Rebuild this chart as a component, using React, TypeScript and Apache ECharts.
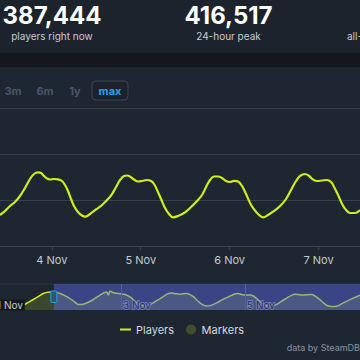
import React, { useEffect, useRef } from "react";
import * as echarts from "echarts";

// Main chart: hours since 3 Nov 00:00 and concurrent players
const playerHours = [
  10.0, 11.35, 12.7, 14.05, 15.4, 16.75, 18.1, 19.18, 20.26, 21.07,
  21.88, 22.69, 23.5, 24.58, 25.66, 26.74, 27.55, 28.36, 29.17, 29.98,
  31.06, 32.14, 32.95, 34.3, 35.93, 37.55, 39.17, 40.25, 41.33, 42.41,
  43.49, 44.3, 45.1, 46.19, 47.27, 48.35, 49.7, 50.78, 51.59, 52.4,
  53.48, 54.56, 55.64, 56.72, 58.07, 59.69, 61.31, 62.93, 64.55, 65.63,
  66.71, 67.79, 68.87, 69.95, 71.03, 72.11, 73.19, 74.27, 75.35, 76.43,
  77.52, 78.6, 79.68, 81.03, 82.38, 84.0, 85.62, 87.24, 88.86, 89.94,
  91.02, 92.37, 93.45, 94.53, 95.61, 96.96, 98.31, 99.39, 100.2, 101.28,
  102.36, 103.44, 104.52, 105.87, 107.22,
];
const playerCounts = [
  267400, 276100, 287000, 295700, 308700, 326100, 345700, 356500, 360200, 358700,
  352200, 346700, 344600, 345700, 345000, 341300, 332600, 319600, 302200, 287000,
  273900, 266300, 263700, 269600, 279400, 289100, 302200, 313000, 328300, 343500,
  352200, 353300, 351100, 344600, 340200, 341300, 343500, 341300, 334800, 321700,
  302200, 282600, 269600, 262400, 265200, 271700, 282600, 295700, 310900, 328300,
  343500, 351100, 351100, 347800, 341300, 339100, 341700, 340200, 330400, 313000,
  293500, 279400, 269600, 262400, 267400, 276100, 287000, 302200, 326100, 341300,
  352200, 356500, 352200, 344600, 341300, 342400, 343500, 339100, 328300, 310900,
  291300, 278300, 271700, 271700, 278300,
];
const mainTickHours = [24, 48, 72, 96];

// Navigator: hours since 3 Nov 00:00 and players
const navHours = [
  -46.84, -42.97, -40.26, -37.55, -35.23, -32.52, -30.08, -27.48, -26.21, -23.61,
  -21.02, -18.58, -16.53, -15.1, -13.28, -10.84, -8.13, -6.58, -5.54, -4.92,
  -4.26, -3.48, -2.32, -0.39, 1.55, 2.9, 4.14, 6.08, 8.63, 10.45,
  12.5, 14.32, 16.37, 17.8, 19.63, 21.29, 22.84, 25.43, 26.71, 27.99,
  29.42, 30.58, 31.94, 33.18, 34.84, 37.05, 39.49, 42.2, 43.74, 45.41,
  46.84, 48.66, 49.94, 51.21, 52.45, 53.81, 55.35, 57.02, 58.45, 60.27,
  61.93, 64.14, 65.8, 67.35, 68.9, 70.57, 72.19, 73.82, 75.48, 77.03,
  78.58, 80.24, 82.84, 84.38, 86.05, 87.87, 89.92, 92.52,
];
const navCounts = [
  260500, 253300, 249700, 267800, 295200, 325600, 356000, 367500, 367500, 356000,
  331400, 300300, 271400, 271400, 282200, 307500, 343700, 361800, 367500, 343700,
  374800, 365400, 360300, 354500, 348700, 336500, 319800, 283700, 259100, 264200,
  283700, 307500, 331400, 350900, 360300, 354500, 350900, 356000, 347300, 331400,
  303900, 283700, 265600, 259100, 264200, 283700, 311100, 336500, 350900, 356000,
  347300, 343700, 343700, 336500, 318400, 295200, 271400, 254800, 258400, 271400,
  293100, 319800, 340100, 350900, 347300, 343700, 347300, 348700, 332800, 307500,
  280100, 259100, 254800, 264200, 283700, 300300, 319800, 343700,
];
const navTickHours = [-48, 0, 48];
const navSelectStart = -26;

const statValues = ["387,444", "416,517"];
const statLabels = ["players right now", "24-hour peak", "all-time peak"];
const rangeButtons = ["3m", "6m", "1y"];
const legendNames = ["Players", "Markers"];

const FONT = "Inter, 'Noto Sans', sans-serif";
const LIME = "#cfec1c";
const BG = "#1e2632";

const dayLabel = (v: number) => `${3 + Math.round(v / 24)} Nov`;

export default function App() {
  const ref = useRef<HTMLDivElement>(null);
  useEffect(() => {
    const chart = echarts.init(ref.current!, null, { renderer: "svg" });
    const option: any = {
      animation: false,
      backgroundColor: BG,
      textStyle: { fontFamily: FONT },
      legend: {
        data: [
          { name: legendNames[0], icon: "path://M0,0H11V2H0Z" },
          { name: legendNames[1], icon: "circle" },
        ],
        left: 115,
        top: 319,
        itemWidth: 11,
        itemHeight: 10,
        itemGap: 12,
        selectedMode: false,
        textStyle: { color: "#d3d8df", fontSize: 11, fontFamily: FONT },
      },
      grid: [
        { left: 0, right: 0, top: 108, bottom: 114 },
        { left: 0, right: 0, top: 284, height: 26 },
      ],
      xAxis: [
        {
          type: "value",
          gridIndex: 0,
          min: 10,
          max: 107.2,
          axisLine: { lineStyle: { color: "#3a4350", width: 1 } },
          axisTick: { length: 4, lineStyle: { color: "#3a4350" }, customValues: mainTickHours },
          axisLabel: {
            color: "#c3cad3",
            fontSize: 11,
            margin: 8,
            formatter: dayLabel,
            fontFamily: FONT,
            customValues: mainTickHours,
          },
          splitLine: { show: false },
        },
        {
          type: "value",
          gridIndex: 1,
          min: -46.84,
          max: 92.52,
          axisLine: { show: false },
          axisTick: { show: false },
          axisLabel: { show: false },
          splitLine: { show: false },
        },
      ],
      yAxis: [
        {
          type: "value",
          gridIndex: 0,
          min: 200000,
          max: 500000,
          interval: 100000,
          axisLabel: { show: false },
          axisLine: { show: false },
          axisTick: { show: false },
          splitLine: { show: true, lineStyle: { color: "#363f4c", width: 1 } },
        },
        {
          type: "value",
          gridIndex: 1,
          min: 228000,
          max: 430000,
          axisLabel: { show: false },
          axisLine: { show: false },
          axisTick: { show: false },
          splitLine: { show: false },
        },
      ],
      series: [
        {
          name: "Players",
          type: "line",
          xAxisIndex: 0,
          yAxisIndex: 0,
          data: playerHours.map((h, i) => [h, playerCounts[i]]),
          smooth: 0.4,
          symbol: "none",
          showSymbol: false,
          lineStyle: { color: LIME, width: 2.2 },
          itemStyle: { color: LIME },
          z: 3,
        },
        {
          name: "Markers",
          type: "scatter",
          xAxisIndex: 0,
          yAxisIndex: 0,
          data: [],
          symbol: "circle",
          itemStyle: { color: "#4a5a2c" },
        },
        {
          name: "Navigator",
          type: "line",
          xAxisIndex: 1,
          yAxisIndex: 1,
          data: navHours.map((h, i) => [h, navCounts[i]]),
          smooth: 0.2,
          symbol: "none",
          showSymbol: false,
          lineStyle: { color: LIME, width: 1.5 },
          areaStyle: { color: "rgba(200,230,30,0.26)" },
          z: 2,
          markLine: {
            silent: true,
            symbol: ["none", "none"],
            label: { show: false },
            lineStyle: { color: "#4c5463", type: "solid", width: 1 },
            data: navTickHours.filter((h) => h > -46.84).map((h) => ({ xAxis: h })),
          },
        },
      ],
    };
    chart.setOption(option);
    const px = (h: number) => chart.convertToPixel({ xAxisIndex: 1 }, h) as number;
    const selX = px(navSelectStart);
    const txt = (x: number, y: number, text: string, s: any) => ({
      type: "text",
      x,
      y,
      z: 20,
      style: { text, fontFamily: FONT, ...s },
    });
    const navLabels = navTickHours.map((h) => {
      const x = px(h);
      const sel = h >= navSelectStart;
      return txt(x + (sel ? 2 : -1), 305, dayLabel(h), sel
        ? { fill: "#272d5c", stroke: "#7b84c2", lineWidth: 1.5, fontSize: 10, align: "left", verticalAlign: "middle" }
        : { fill: "#c9cbd0", backgroundColor: "#15181d", padding: [1, 2, 0, 1], fontSize: 10, align: "left", verticalAlign: "middle" });
    });
    const btn = (x: number, t: string) =>
      txt(x, 91, t, { fill: "#46566a", fontSize: 11, fontWeight: "bold", align: "center", verticalAlign: "middle" });
    const graphic: any[] = [
      { type: "rect", shape: { x: 0, y: 0, width: 360, height: 53 }, style: { fill: "#1c232c" }, z: -10 },
      { type: "rect", shape: { x: 0, y: 53, width: 360, height: 14 }, style: { fill: "#14181e" }, z: -10 },
      txt(52, 15, statValues[0], { fill: "#ffffff", fontSize: 24, fontWeight: "bold", align: "center", verticalAlign: "middle" }),
      txt(228.5, 15, statValues[1], { fill: "#ffffff", fontSize: 24, fontWeight: "bold", align: "center", verticalAlign: "middle" }),
      txt(52, 36, statLabels[0], { fill: "#c5cbd3", fontSize: 10, align: "center", verticalAlign: "middle" }),
      txt(228.5, 36, statLabels[1], { fill: "#c5cbd3", fontSize: 10, align: "center", verticalAlign: "middle" }),
      txt(347, 36, statLabels[2], { fill: "#c5cbd3", fontSize: 10, align: "left", verticalAlign: "middle" }),
      btn(13, rangeButtons[0]),
      btn(45, rangeButtons[1]),
      btn(75, rangeButtons[2]),
      {
        type: "rect",
        shape: { x: 92, y: 81, width: 36, height: 19, r: 4 },
        style: { fill: "#1b222b", stroke: "#3a4452", lineWidth: 1 },
        z: 15,
      },
      txt(110, 91, "max", { fill: "#1fa3f0", fontSize: 11, fontWeight: "bold", align: "center", verticalAlign: "middle" }),
      { type: "line", shape: { x1: 0, y1: 284, x2: 360, y2: 284 }, style: { stroke: "#2d3542", lineWidth: 1 }, z: 4 },
      {
        type: "rect",
        shape: { x: selX, y: 284, width: 360 - selX, height: 26 },
        style: { fill: "rgba(94,108,237,0.45)" },
        z: 5,
      },
      {
        type: "rect",
        shape: { x: selX - 3, y: 291, width: 6, height: 11.5, r: 1 },
        style: { fill: "#2b5678", stroke: "#22a3d8", lineWidth: 1 },
        z: 20,
      },
      ...navLabels,
      txt(360, 347, "data by SteamDB", { fill: "#8a939e", fontSize: 9, align: "right", verticalAlign: "middle" }),
    ];
    chart.setOption({ graphic });
    return () => chart.dispose();
  }, []);
  return (
    <div
      ref={ref}
      style={{ position: "fixed", left: 0, top: 0, width: 360, height: 360, background: BG }}
    />
  );
}
